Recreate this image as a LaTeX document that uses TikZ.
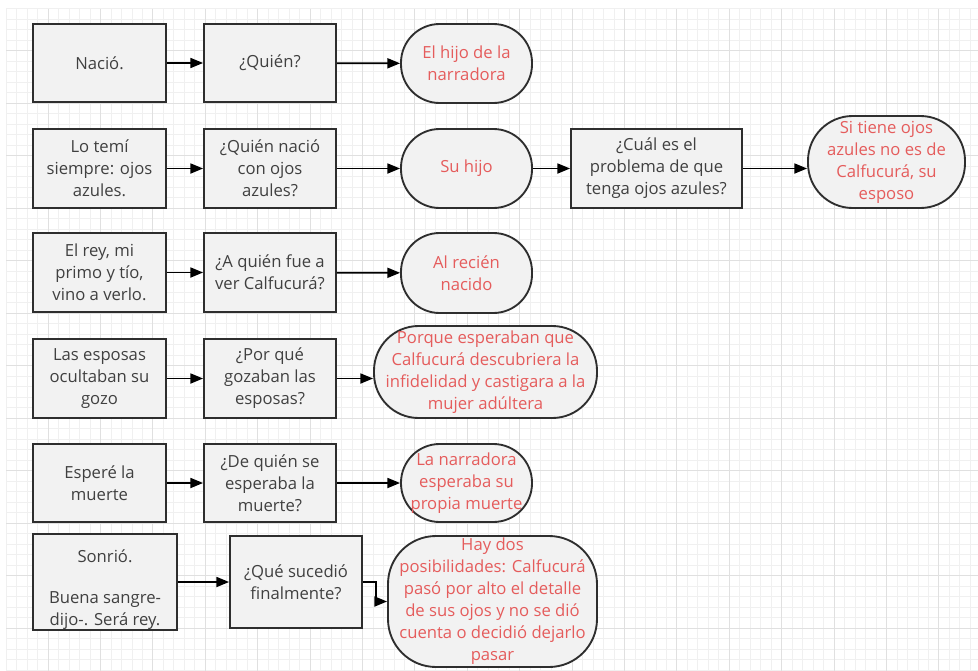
\documentclass[tikz,border=0pt]{standalone}
\usepackage{fontspec}
\setmainfont{Open Sans}
\usetikzlibrary{arrows.meta}
\definecolor{boxfill}{HTML}{F2F2F2}
\definecolor{boxline}{HTML}{2E2E2E}
\definecolor{boxtext}{HTML}{404040}
\definecolor{redtext}{HTML}{E55C5C}
\definecolor{gridminor}{HTML}{F0F0F0}
\definecolor{gridmajor}{HTML}{E0E0E0}
\tikzset{
  sz/.style 2 args={minimum width=#1*0.75pt, minimum height=#2*0.75pt},
  basebox/.style={draw=boxline, fill=boxfill, line width=1.4pt, align=center, inner sep=0pt,
    font=\fontsize{12.5}{16.5}\selectfont},
  qbox/.style={basebox, text=boxtext},
  term/.style={basebox, text=redtext, rounded corners=#1},
  arr/.style={draw=black, line width=1.3pt, -{Triangle[length=9.5pt,width=7.5pt]}}
}
\begin{document}
\begin{tikzpicture}[x=0.75pt,y=-0.75pt]
\useasboundingbox (0,0) rectangle (978,671);
\fill[white] (0,0) rectangle (978,671);
% grid
\begin{scope}
\clip (6,8.5) rectangle (978,671);
\foreach \i in {0,...,93} \draw[gridminor, line width=0.5pt] ({6.08+\i*10.48},8.5) -- ({6.08+\i*10.48},671);
\foreach \j in {0,...,63} \draw[gridminor, line width=0.5pt] (6,{8.5+\j*10.5}) -- (978,{8.5+\j*10.5});
\foreach \k in {0,...,17} \draw[gridmajor, line width=0.6pt] ({48+\k*52.4},8.5) -- ({48+\k*52.4},671);
\foreach \k in {0,...,11} \draw[gridmajor, line width=0.6pt] (6,{50.5+\k*52.5}) -- (978,{50.5+\k*52.5});
\end{scope}
% row 1
\node[qbox, sz={133}{78}] (a1) at (99.5,63) {Nació.};
\node[qbox, sz={132}{78}] (b1) at (270,63) {¿Quién?};
\node[term=29pt, sz={131}{79}] (c1) at (466.5,63.5) {El hijo de la\\narradora};
% row 2
\node[qbox, sz={133}{79}] (a2) at (99.5,168.5) {Lo temí\\siempre: ojos\\azules.};
\node[qbox, sz={132}{79}] (b2) at (270,168.5) {¿Quién nació\\con ojos\\azules?};
\node[term=29pt, sz={131}{79}] (c2) at (466.5,168.5) {Su hijo};
\node[qbox, sz={171}{79}] (d2) at (656.5,168.5) {¿Cuál es el\\problema de que\\tenga ojos azules?};
\node[term=33.5pt, sz={157}{92}] (e2) at (886.5,162) {Si tiene ojos\\azules no es de\\Calfucurá, su\\esposo};
% row 3
\node[qbox, sz={133}{79}] (a3) at (99.5,272.5) {El rey, mi\\primo y tío,\\vino a verlo.};
\node[qbox, sz={132}{79}] (b3) at (270,272.5) {¿A quién fue a\\ver Calfucurá?};
\node[term=29pt, sz={131}{80}] (c3) at (466.5,273) {Al recién\\nacido};
% row 4
\node[qbox, sz={133}{79}] (a4) at (99.5,378.5) {Las esposas\\ocultaban su\\gozo};
\node[qbox, sz={132}{79}] (b4) at (270,378.5) {¿Por qué\\gozaban las\\esposas?};
\node[term=33.5pt, sz={223}{92}] (c4) at (485.5,372) {Porque esperaban que\\Calfucurá descubriera la\\infidelidad y castigara a la\\mujer adúltera};
% row 5
\node[qbox, sz={133}{78}] (a5) at (99.5,483) {Esperé la\\muerte};
\node[qbox, sz={132}{78}] (b5) at (270,483) {¿De quién se\\esperaba la\\muerte?};
\node[term=29pt, sz={131}{78}] (c5) at (466.5,483) {La narradora\\esperaba su\\propia muerte};
% row 6
\node[qbox, sz={144}{92}] (a6) at (105,582) {\rule{0pt}{21pt}Sonrió.\\[14.5pt]Buena sangre-\\dijo-. Será rey.};
\node[qbox, sz={132}{92}] (b6) at (296,582) {¿Qué sucedió\\finalmente?};
\node[term=36pt, sz={209}{131}] (c6) at (492.5,601.5) {Hay dos\\posibilidades: Calfucurá\\pasó por alto el detalle\\de sus ojos y no se dió\\cuenta o decidió dejarlo\\pasar};
% connectors
\draw[arr] (a1) -- (b1);
\draw[arr] (b1) -- (c1);
\draw[arr] (a2) -- (b2);
\draw[arr] (b2) -- (c2);
\draw[arr] (c2) -- (d2);
\draw[arr] (d2.east) -- (d2.east -| e2.west);
\draw[arr] (a3) -- (b3);
\draw[arr] (b3) -- (c3);
\draw[arr] (a4) -- (b4);
\draw[arr] (b4.east) -- (b4.east -| c4.west);
\draw[arr] (a5) -- (b5);
\draw[arr] (b5) -- (c5);
\draw[arr] (a6) -- (b6);
\draw[arr] (b6.east) -- ++(13,0) |- (c6.west);
\end{tikzpicture}
\end{document}
